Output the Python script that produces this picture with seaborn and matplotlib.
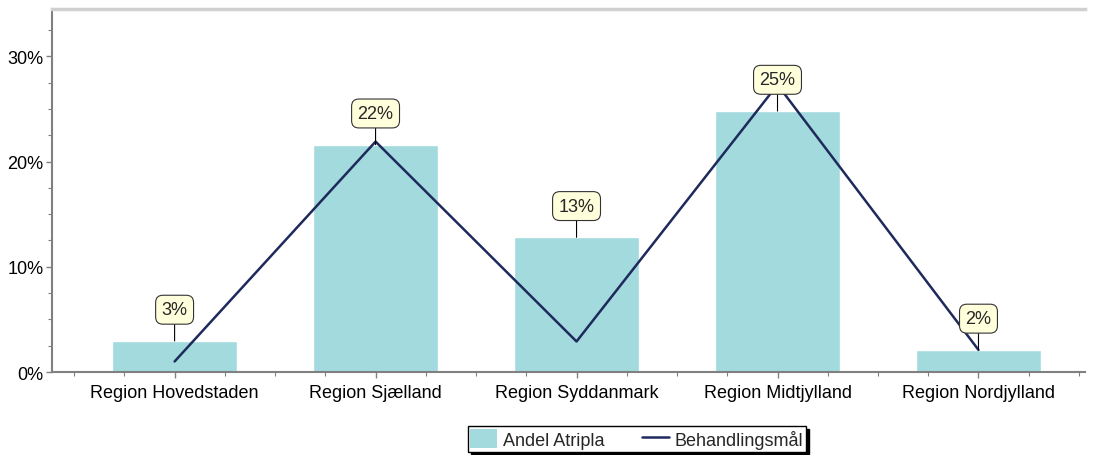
import pandas as pd
import numpy as np
import matplotlib
matplotlib.use("Agg")
import matplotlib.pyplot as plt
import matplotlib.ticker as mticker
from matplotlib.patches import Patch
from matplotlib.lines import Line2D
import seaborn as sns

regioner = ["Region Hovedstaden", "Region Sjælland", "Region Syddanmark",
            "Region Midtjylland", "Region Nordjylland"]
andel_atripla = [2.95, 21.6, 12.8, 24.8, 2.1]
behandlingsmaal = [1.0, 21.9, 2.9, 27.3, 2.1]
labels = ["3%", "22%", "13%", "25%", "2%"]

BAR_COLOR = "#a2dadd"
LINE_COLOR = "#1f2a5c"

df = pd.DataFrame({"Region": regioner, "Andel": andel_atripla, "Maal": behandlingsmaal})

sns.set_style("white")
plt.rcParams["font.family"] = ["Liberation Sans", "DejaVu Sans"]

fig = plt.figure(figsize=(10.95, 4.56), dpi=100)
ax = fig.add_axes([52 / 1095, 1 - 373 / 456, 1033 / 1095, 363 / 456])

sns.barplot(data=df, x="Region", y="Andel", color=BAR_COLOR, width=0.62,
            saturation=1, ax=ax, zorder=2)
sns.lineplot(data=df, x="Region", y="Maal", color=LINE_COLOR, linewidth=1.8,
             ax=ax, zorder=3)

# etiketter over soejlerne
for i, (v, lab) in enumerate(zip(andel_atripla, labels)):
    ax.annotate(lab, xy=(i, v), xytext=(0, 22.5), textcoords="offset points",
                ha="center", va="center", fontsize=13, zorder=5,
                bbox=dict(boxstyle="round,pad=0.33,rounding_size=0.4",
                          fc="#ffffdc", ec="#333333", lw=0.8),
                arrowprops=dict(arrowstyle="-", color="black", lw=0.8,
                                shrinkA=0, shrinkB=0))

ax.set_xlim(-0.61, 4.53)
ax.set_ylim(0, 34.5)
ax.set_xlabel("")
ax.set_ylabel("")

ax.yaxis.set_major_locator(mticker.MultipleLocator(10))
ax.yaxis.set_minor_locator(mticker.MultipleLocator(2.5))
ax.yaxis.set_major_formatter(mticker.FuncFormatter(lambda v, p: f"{v:.0f}%"))
ax.xaxis.set_minor_locator(mticker.MultipleLocator(0.25))

ax.tick_params(axis="both", which="both", direction="out", color="#808080",
               labelsize=13, labelcolor="black", left=True, bottom=True)
ax.tick_params(axis="both", which="major", length=4, width=1)
ax.tick_params(axis="both", which="minor", length=3, width=0.8)
ax.tick_params(axis="x", which="major", pad=5)
ax.tick_params(axis="y", which="major", pad=2)

for side in ["left", "bottom"]:
    ax.spines[side].set_color("#808080")
    ax.spines[side].set_linewidth(1.5)
ax.spines["top"].set_color("#d0d0d0")
ax.spines["top"].set_linewidth(2.5)
ax.spines["right"].set_visible(False)

handles = [Patch(facecolor=BAR_COLOR, edgecolor="none"),
           Line2D([0], [0], color=LINE_COLOR, linewidth=1.8)]
leg = fig.legend(handles, ["Andel Atripla", "Behandlingsmål"], ncol=2,
                 loc="center", bbox_to_anchor=(637 / 1095, 1 - 440 / 456),
                 frameon=True, fancybox=False, shadow={"color": "black", "alpha": 1},
                 fontsize=13, handlelength=1.45, handleheight=1.25,
                 columnspacing=2.1, handletextpad=0.35, borderpad=0.15,
                 borderaxespad=0)
leg.get_frame().set_edgecolor("black")
leg.get_frame().set_linewidth(1)

fig.savefig("out.png", dpi=100)
